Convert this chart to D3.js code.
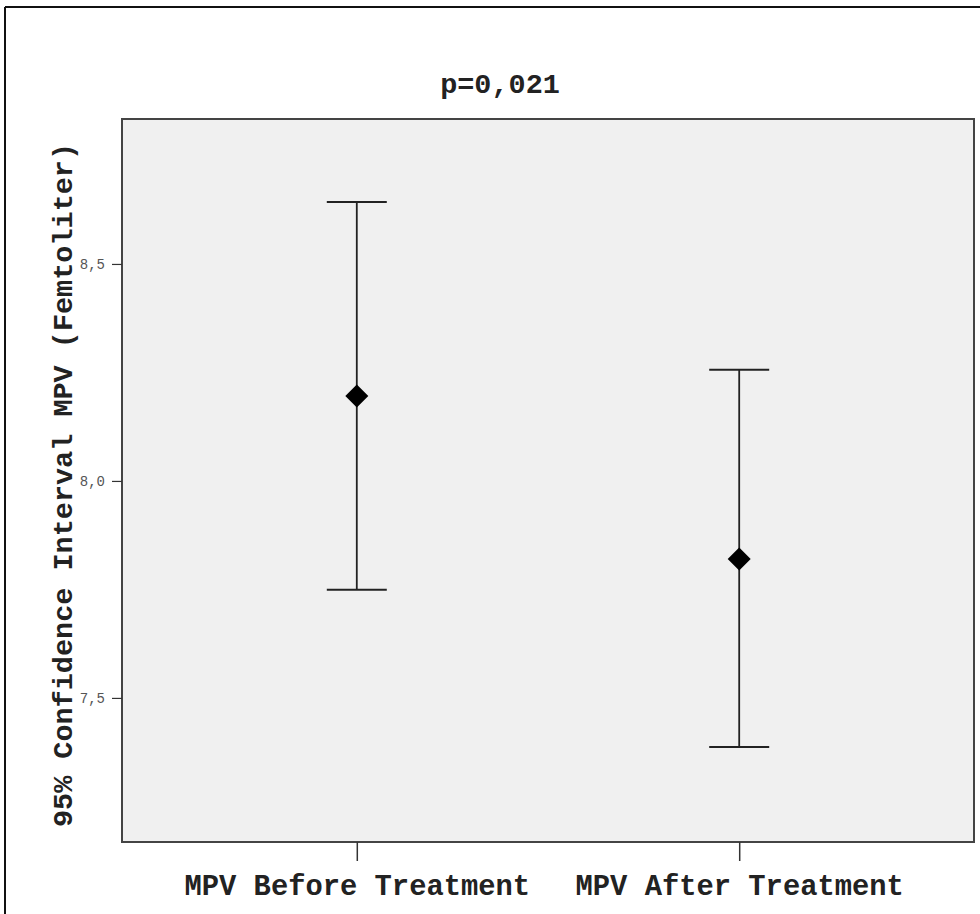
<!DOCTYPE html>
<html><head><meta charset="utf-8">
<script src="https://cdn.jsdelivr.net/npm/d3@7"></script>
<style>body{margin:0;background:#fff}</style>
</head><body>
<svg id="chart" width="980" height="914"></svg>
<script>
const categories = ["MPV Before Treatment", "MPV After Treatment"];
const means = [8.196, 7.820];
const lower = [7.749, 7.387];
const upper = [8.643, 8.256];
const yTicks = [7.5, 8.0, 8.5];
const tickLabels = ["7,5", "8,0", "8,5"];
const title = "p=0,021";
const yTitle = "95% Confidence Interval MPV (Femtoliter)";

const svg = d3.select("#chart");
const m = {left:122, top:119, right:974, bottom:842};
const font = "'Liberation Mono','Courier New',monospace";

// outer frame
svg.append("line").attr("x1",5).attr("y1",7).attr("x2",980).attr("y2",7).attr("stroke","#111").attr("stroke-width",2);
svg.append("line").attr("x1",5).attr("y1",7).attr("x2",5).attr("y2",914).attr("stroke","#111").attr("stroke-width",2);

const x = d3.scalePoint().domain(categories).range([m.left, m.right]).padding(0.614);
const y = d3.scaleLinear().domain([7.168, 8.834]).range([m.bottom, m.top]);

svg.append("rect").attr("x",m.left).attr("y",m.top).attr("width",m.right-m.left).attr("height",m.bottom-m.top)
  .attr("fill","#f0f0f0").attr("stroke","#444").attr("stroke-width",2);

// y axis
const yAxis = svg.append("g").attr("transform",`translate(${m.left},0)`)
  .call(d3.axisLeft(y).tickValues(yTicks).tickSize(10).tickPadding(7).tickFormat((d,i)=>tickLabels[i]));
yAxis.select(".domain").remove();
yAxis.selectAll("line").attr("stroke","#333").attr("stroke-width",1.2);
yAxis.selectAll("text").attr("font-family",font).attr("font-size",14).attr("fill","#555");

// x axis
const xAxis = svg.append("g").attr("transform",`translate(0,${m.bottom})`)
  .call(d3.axisBottom(x).tickSize(19).tickPadding(14));
xAxis.select(".domain").remove();
xAxis.selectAll("line").attr("stroke","#333").attr("stroke-width",1.5);
xAxis.selectAll("text").attr("font-family",font).attr("font-size",28.8).attr("font-weight","bold").attr("fill","#222");

// error bars
const data = categories.map((c,i)=>({c, mean:means[i], lo:lower[i], hi:upper[i]}));
const g = svg.append("g");
g.selectAll(".v").data(data).join("line")
  .attr("x1",d=>x(d.c)).attr("x2",d=>x(d.c)).attr("y1",d=>y(d.lo)).attr("y2",d=>y(d.hi))
  .attr("stroke","#222").attr("stroke-width",1.8);
g.selectAll(".hi").data(data).join("line")
  .attr("x1",d=>x(d.c)-30).attr("x2",d=>x(d.c)+30).attr("y1",d=>y(d.hi)).attr("y2",d=>y(d.hi))
  .attr("stroke","#222").attr("stroke-width",2);
g.selectAll(".lo").data(data).join("line")
  .attr("x1",d=>x(d.c)-30).attr("x2",d=>x(d.c)+30).attr("y1",d=>y(d.lo)).attr("y2",d=>y(d.lo))
  .attr("stroke","#222").attr("stroke-width",2);
g.selectAll(".pt").data(data).join("path")
  .attr("d",d=>{const cx=x(d.c), cy=y(d.mean), r=11.5; return `M${cx},${cy-r}L${cx+r},${cy}L${cx},${cy+r}L${cx-r},${cy}Z`;})
  .attr("fill","#000");

// title
svg.append("text").attr("x",500).attr("y",93).attr("text-anchor","middle")
  .attr("font-family",font).attr("font-size",28.5).attr("font-weight","bold").attr("fill","#222").text(title);

// y title
svg.append("text").attr("transform",`translate(72,485) rotate(-90)`).attr("text-anchor","middle")
  .attr("font-family",font).attr("font-size",28.5).attr("font-weight","bold").attr("fill","#222").text(yTitle);
</script>
</body></html>
